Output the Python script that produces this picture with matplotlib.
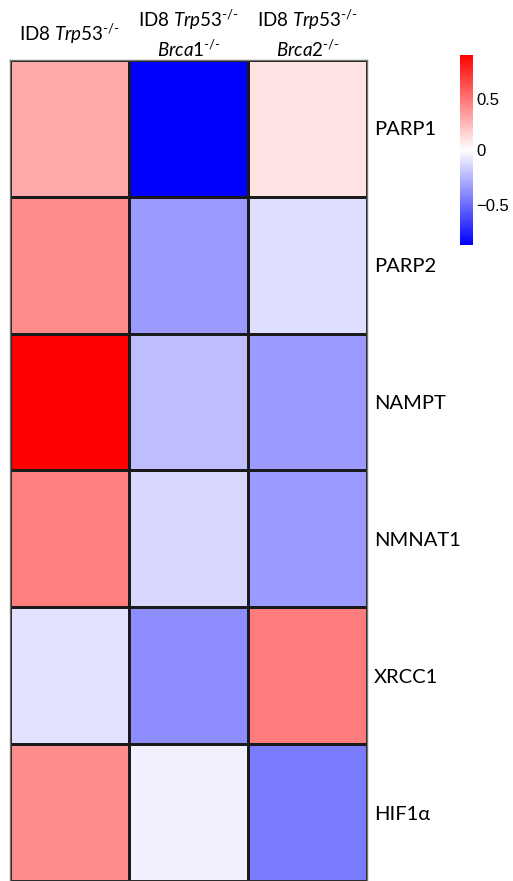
import matplotlib
matplotlib.use('Agg')
import matplotlib.pyplot as plt
import numpy as np
from matplotlib.colors import TwoSlopeNorm

plt.rcParams['font.family'] = ['Lato', 'DejaVu Sans']
plt.rcParams['mathtext.fontset'] = 'custom'
plt.rcParams['mathtext.rm'] = 'Lato'
plt.rcParams['mathtext.it'] = 'Lato:italic'

genes = ['PARP1', 'PARP2', 'NAMPT', 'NMNAT1', 'XRCC1', 'HIF1α']
samples = [r'ID8 $\it{Trp53}^{\text{-/-}}$',
           'ID8 $\\it{Trp53}^{\\text{-/-}}$\n$\\it{Brca1}^{\\text{-/-}}$',
           'ID8 $\\it{Trp53}^{\\text{-/-}}$\n$\\it{Brca2}^{\\text{-/-}}$']

trp53 = [0.31, 0.43, 0.94, 0.47, -0.10, 0.42]
brca1 = [-0.87, -0.34, -0.22, -0.13, -0.39, -0.05]
brca2 = [0.11, -0.11, -0.34, -0.34, 0.48, -0.45]

cbar_ticks = [-0.5, 0, 0.5]
cbar_labels = ['\u22120.5', '0', '0.5']
vmin, vmax = -0.87, 0.94

data = np.array([trp53, brca1, brca2]).T

W, H = 513, 881
fig = plt.figure(figsize=(W / 100, H / 100), dpi=100)

ax = fig.add_axes([10 / W, 0, 357 / W, 821 / H])
norm = TwoSlopeNorm(vcenter=0, vmin=vmin, vmax=vmax)
mesh = ax.pcolormesh(data, cmap='bwr', norm=norm, edgecolors='#1a1a1a', linewidth=0.9)
ax.set_xlim(0, data.shape[1])
ax.set_ylim(data.shape[0], 0)
for s in ax.spines.values():
    s.set_color('#777777')
    s.set_linewidth(1.0)

ax.set_xticks(np.arange(len(samples)) + 0.5)
ax.set_xticklabels(samples, fontsize=13.5, linespacing=1.35, va='center')
ax.xaxis.tick_top()
ax.tick_params(axis='x', length=0, pad=19)

ax.set_yticks(np.arange(len(genes)) + 0.5)
ax.set_yticklabels(genes, fontsize=14.5)
ax.yaxis.tick_right()
ax.tick_params(axis='y', length=0, pad=5)

cax = fig.add_axes([460 / W, 1 - 245 / H, 13 / W, 190 / H])
cb = fig.colorbar(mesh, cax=cax, ticks=cbar_ticks)
cb.outline.set_visible(False)
cb.ax.tick_params(length=0, pad=2.5)
cb.ax.set_yticklabels(cbar_labels, family=['Liberation Sans'], fontsize=12)

fig.savefig('out.png', dpi=100)
